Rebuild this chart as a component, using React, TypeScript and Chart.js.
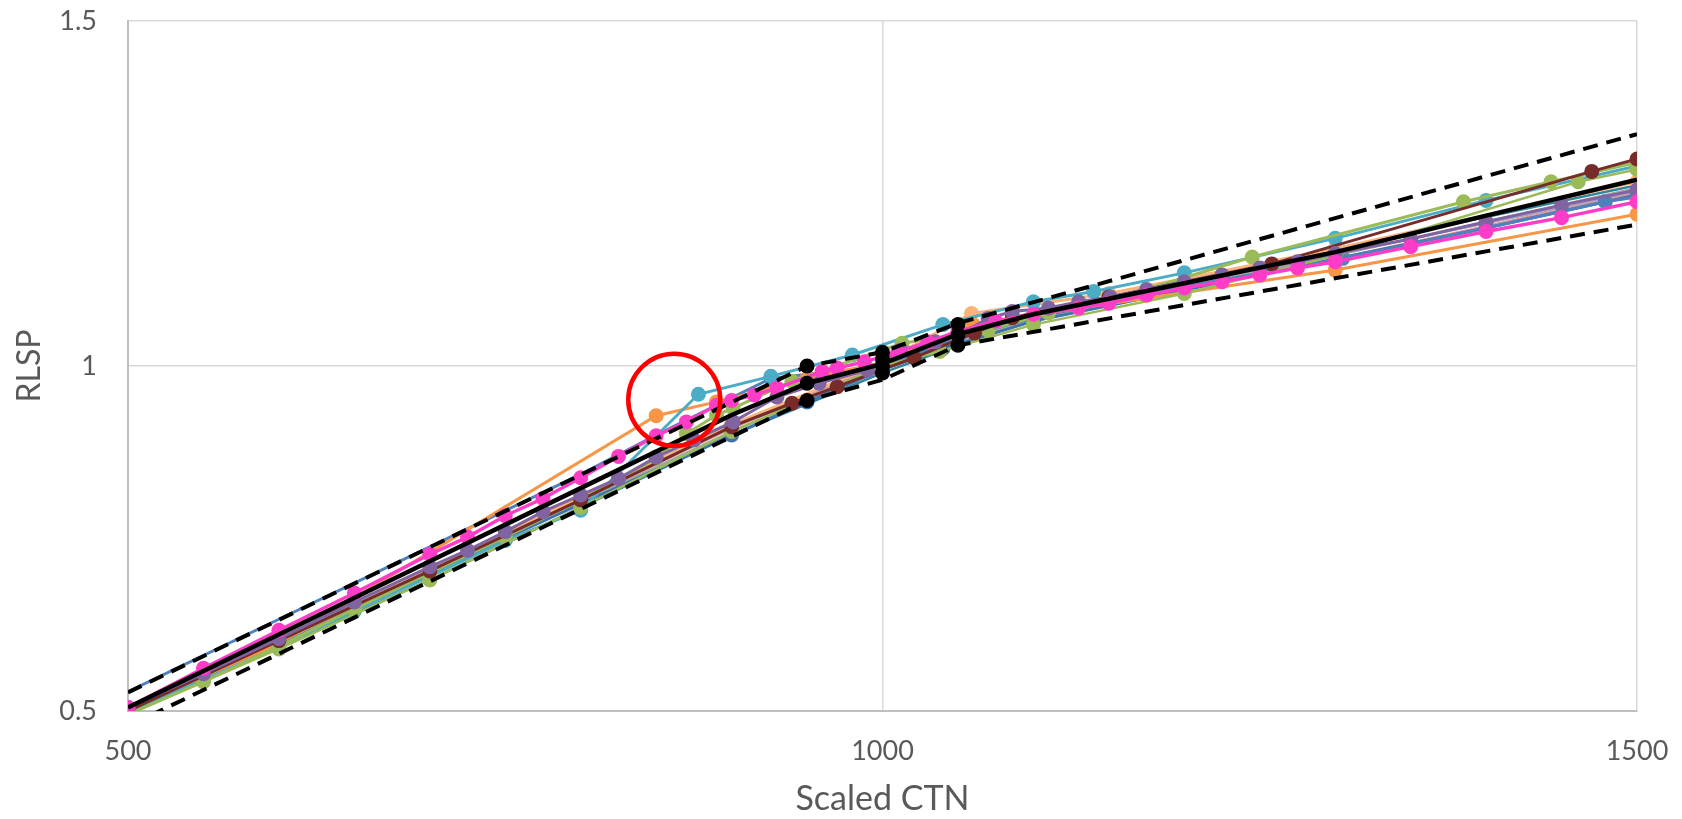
import { useEffect, useRef } from "react";
import { Chart, registerables } from "chart.js";

Chart.register(...registerables);

// Axis ticks
const xTicks = [500, 1000, 1500];
const yTicks = [0.5, 1, 1.5];

// Reference curve and its tolerance band
const refX = [500, 600, 700, 800, 900, 950, 1000, 1050, 1100, 1200, 1300, 1400, 1500];
const refY = [0.505, 0.611, 0.717, 0.823, 0.929, 0.975, 1.003, 1.046, 1.075, 1.12, 1.165, 1.218, 1.27];
const bandX = [500, 950, 1000, 1050, 1500];
const upperY = [0.527, 1.0, 1.02, 1.062, 1.336];
const lowerY = [0.478, 0.95, 0.98, 1.03, 1.205];

// Calibration checkpoints
const checkX = [950, 950, 950, 1000, 1000, 1000, 1000, 1050, 1050, 1050];
const checkY = [1.0, 0.975, 0.95, 1.02, 1.01, 1.0, 0.99, 1.06, 1.045, 1.03];

// Highlighted outlier region
const markX = [862];
const markY = [0.951];

// Measured curves
const pinkX = [500, 550, 600, 650, 700, 725, 750, 775, 800, 825, 850, 870, 890, 900, 915, 930, 960, 970, 988, 1010, 1030, 1050, 1075, 1100, 1130, 1150, 1175, 1200, 1225, 1250, 1275, 1300, 1350, 1400, 1450, 1500];
const pinkY = [0.505, 0.562, 0.617, 0.671, 0.727, 0.752, 0.783, 0.808, 0.838, 0.869, 0.899, 0.919, 0.943, 0.95, 0.958, 0.968, 0.992, 0.997, 1.006, 1.02, 1.035, 1.05, 1.065, 1.075, 1.084, 1.091, 1.103, 1.113, 1.122, 1.132, 1.142, 1.151, 1.173, 1.195, 1.215, 1.238];

const purpleX = [500, 550, 600, 650, 700, 725, 750, 775, 800, 825, 850, 875, 901, 930, 958, 990, 1012, 1035, 1050, 1070, 1086, 1110, 1130, 1151, 1175, 1200, 1225, 1250, 1275, 1300, 1350, 1400, 1450, 1500];
const purpleY = [0.505, 0.554, 0.605, 0.658, 0.709, 0.733, 0.76, 0.789, 0.813, 0.837, 0.868, 0.893, 0.919, 0.955, 0.975, 0.994, 1.023, 1.035, 1.045, 1.069, 1.079, 1.084, 1.093, 1.1, 1.111, 1.122, 1.132, 1.142, 1.151, 1.163, 1.184, 1.209, 1.233, 1.255];

const greenX = [500, 550, 600, 650, 700, 750, 800, 850, 870, 890, 901, 940, 1013, 1070, 1110, 1150, 1245, 1385, 1443, 1500];
const greenY = [0.495, 0.5425, 0.594, 0.648, 0.7, 0.752, 0.806, 0.866, 0.902, 0.929, 0.939, 0.978, 1.033, 1.052, 1.077, 1.095, 1.158, 1.238, 1.267, 1.295];

const oliveX = [500, 600, 700, 800, 900, 1000, 1038, 1100, 1200, 1300, 1461, 1500];
const oliveY = [0.495, 0.59, 0.69, 0.795, 0.905, 1.0, 1.021, 1.06, 1.105, 1.16, 1.267, 1.285];

const tealX = [500, 550, 600, 650, 700, 750, 800, 878, 926, 980, 1040, 1100, 1140, 1200, 1300, 1400, 1500];
const tealY = [0.5, 0.545, 0.592, 0.645, 0.695, 0.747, 0.791, 0.959, 0.985, 1.016, 1.06, 1.093, 1.108, 1.135, 1.185, 1.24, 1.29];

const orangeX = [500, 550, 600, 850, 890, 950, 1000, 1060, 1100, 1300, 1500];
const orangeY = [0.5, 0.55, 0.598, 0.928, 0.948, 0.982, 1.005, 1.06, 1.074, 1.139, 1.22];

const peachX = [500, 600, 700, 800, 900, 1000, 1059, 1150, 1300, 1500];
const peachY = [0.5, 0.6, 0.705, 0.81, 0.915, 1.005, 1.076, 1.105, 1.17, 1.267];

const maroonX = [500, 600, 700, 800, 900, 940, 970, 1021, 1061, 1086, 1150, 1258, 1470, 1500];
const maroonY = [0.5, 0.602, 0.703, 0.806, 0.912, 0.946, 0.97, 1.012, 1.048, 1.07, 1.1, 1.148, 1.282, 1.3];

// first five points of this run lie on the upper band and carry no marker
const blueX = [500, 600, 700, 800, 850, 926, 1000, 1050, 1100, 1200, 1305, 1400, 1479, 1500];
const blueY = [0.528, 0.633, 0.738, 0.843, 0.9, 0.982, 1.0, 1.04, 1.07, 1.115, 1.156, 1.2, 1.238, 1.245];

const steelX = [500, 600, 700, 750, 800, 900, 950, 1000, 1040, 1100, 1200, 1300, 1400, 1500];
const steelY = [0.5, 0.598, 0.698, 0.75, 0.8, 0.9, 0.948, 0.995, 1.025, 1.065, 1.11, 1.155, 1.2, 1.248];

// Unmarked curves
const plainX = [500, 700, 900, 1000, 1100, 1300, 1500];
const grayY = [0.5, 0.7, 0.905, 0.998, 1.068, 1.16, 1.258];
const roseY = [0.5, 0.702, 0.91, 1.0, 1.065, 1.155, 1.25];
const deepTealY = [0.495, 0.69, 0.9, 0.99, 1.07, 1.17, 1.262];
const lilacY = [0.502, 0.706, 0.915, 1.002, 1.07, 1.162, 1.252];

const FONT = 'Lato, "Liberation Sans", sans-serif';
const TEXT = "#595959";

function pts(xs: number[], ys: number[]) {
  return xs.map((x, i) => ({ x, y: ys[i] }));
}

function marked(xs: number[], ys: number[], color: string, width = 3, radius = 7.5, skip = 0) {
  return {
    data: pts(xs, ys),
    showLine: true,
    borderColor: color,
    backgroundColor: color,
    borderWidth: width,
    pointRadius: (c: any) => (c.dataIndex < skip ? 0 : radius),
    pointBorderWidth: 0,
    pointBackgroundColor: color,
  };
}

function plain(xs: number[], ys: number[], color: string, width = 2.5) {
  return {
    data: pts(xs, ys),
    showLine: true,
    borderColor: color,
    backgroundColor: color,
    borderWidth: width,
    pointRadius: 0,
  };
}

export default function App() {
  const ref = useRef<HTMLCanvasElement>(null);

  useEffect(() => {
    if (!ref.current) return;
    const datasets: any[] = [
      // topmost first
      {
        data: pts(markX, markY),
        showLine: false,
        pointRadius: 46,
        pointBorderWidth: 4.5,
        pointBorderColor: "#FF0000",
        pointBackgroundColor: "rgba(0,0,0,0)",
        borderColor: "#FF0000",
        backgroundColor: "rgba(0,0,0,0)",
        clip: false,
      },
      {
        data: pts(checkX, checkY),
        showLine: false,
        pointRadius: 7.5,
        pointBorderWidth: 0,
        pointBackgroundColor: "#000000",
        borderColor: "#000000",
        backgroundColor: "#000000",
      },
      { ...plain(bandX, upperY, "#000000", 4), borderDash: [15, 9] },
      { ...plain(bandX, lowerY, "#000000", 4), borderDash: [15, 9] },
      plain(refX, refY, "#000000", 4.5),
      marked(pinkX, pinkY, "#FF3CC8", 3.5, 7.5),
      marked(purpleX, purpleY, "#8064A2", 3, 7.5),
      marked(maroonX, maroonY, "#772C2A", 3, 7.5),
      marked(greenX, greenY, "#9BBB59", 3, 7.5),
      marked(oliveX, oliveY, "#9BBB59", 2.5, 7.5),
      marked(tealX, tealY, "#4BACC6", 3, 7.5),
      marked(orangeX, orangeY, "#F79646", 3, 7.5),
      marked(peachX, peachY, "#FAB37A", 3, 7.5),
      marked(blueX, blueY, "#4F81BD", 3, 7.5, 5),
      marked(steelX, steelY, "#3F72AF", 3, 7.5, 3),
      plain(plainX, grayY, "#A6A6A6", 2.5),
      plain(plainX, roseY, "#D99694", 2.5),
      plain(plainX, deepTealY, "#31859C", 2.5),
      plain(plainX, lilacY, "#B3A2C7", 2.5),
    ];

    const chart = new Chart(ref.current, {
      type: "scatter",
      data: { datasets },
      options: {
        responsive: false,
        animation: false,
        events: [],
        layout: { autoPadding: false, padding: { left: 0, top: 21, right: 45, bottom: 0 } },
        elements: { line: { tension: 0 } },
        plugins: {
          legend: { display: false },
          tooltip: { enabled: false },
        },
        scales: {
          x: {
            type: "linear",
            min: 500,
            max: 1500,
            afterBuildTicks: (s: any) => {
              s.ticks = xTicks.map((v) => ({ value: v }));
            },
            afterFit: (s: any) => {
              s.height = 108;
              s.paddingLeft = 0;
              s.paddingRight = 0;
            },
            ticks: {
              callback: (v: any) => String(v),
              color: TEXT,
              font: { family: FONT, size: 27 },
              padding: 24,
              maxRotation: 0,
            },
            grid: { color: "#D9D9D9", lineWidth: 1.5, drawTicks: false },
            border: { color: "#BFBFBF", width: 2 },
            title: {
              display: true,
              text: "Scaled CTN",
              color: TEXT,
              font: { family: FONT, size: 34 },
              padding: { top: 0, bottom: 0 },
            },
          },
          y: {
            type: "linear",
            min: 0.5,
            max: 1.5,
            afterBuildTicks: (s: any) => {
              s.ticks = yTicks.map((v) => ({ value: v }));
            },
            afterFit: (s: any) => {
              s.width = 128;
              s.paddingTop = 0;
              s.paddingBottom = 0;
            },
            ticks: {
              callback: (v: any) => String(v),
              color: TEXT,
              font: { family: FONT, size: 27 },
              padding: 31,
            },
            grid: { color: "#D9D9D9", lineWidth: 1.5, drawTicks: false },
            border: { color: "#BFBFBF", width: 2 },
            title: {
              display: true,
              text: "RLSP",
              color: TEXT,
              font: { family: FONT, size: 32 },
              padding: { top: 10, bottom: 0 },
            },
          },
        },
      },
    });
    return () => chart.destroy();
  }, []);

  return (
    <div style={{ position: "fixed", left: 0, top: 0, width: 1682, height: 819, background: "#ffffff" }}>
      <canvas ref={ref} width={1682} height={819} style={{ display: "block" }} />
    </div>
  );
}
